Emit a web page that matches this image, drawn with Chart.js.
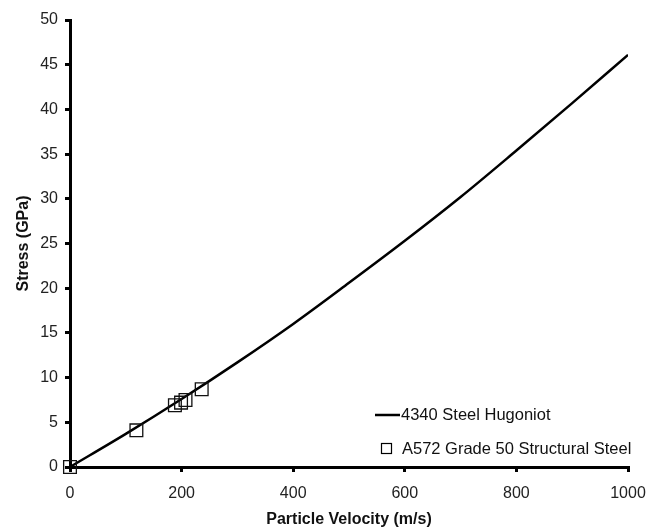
<!DOCTYPE html>
<html lang="en">
<head>
    <meta charset="UTF-8">
    <title>Stress vs Particle Velocity</title>
    <script src="https://cdn.jsdelivr.net/npm/chart.js"></script>
    <style>
        body, html {
            margin: 0;
            padding: 0;
            background-color: #ffffff;
        }
        .chart-container {
            position: relative;
            width: 659px;
            height: 529px;
        }
    </style>
</head>
<body>
    <div class="chart-container">
        <canvas id="hugoniotChart"></canvas>
    </div>
    <script>
        // 4340 steel Hugoniot curve
        const curveVelocity = [0, 100, 200, 300, 400, 500, 600, 700, 800, 900, 1000];
        const curveStress = [0, 3.7, 7.6, 11.7, 16.0, 20.6, 25.3, 30.2, 35.4, 40.7, 46.1];

        // A572 Grade 50 test points
        const testVelocity = [0, 119, 188, 199, 207, 236];
        const testStress = [0, 4.1, 6.9, 7.2, 7.5, 8.7];

        const xTicks = [0, 200, 400, 600, 800, 1000];
        const yTicks = [0, 5, 10, 15, 20, 25, 30, 35, 40, 45, 50];

        const seriesNames = ['4340 Steel Hugoniot', 'A572 Grade 50 Structural Steel'];

        const fontFamily = 'Arial, "Liberation Sans", sans-serif';

        // legend drawn inside the plot, lower right
        const insideLegend = {
            id: 'insideLegend',
            afterDraw(chart) {
                const ctx = chart.ctx;
                ctx.save();
                ctx.font = '16.5px ' + fontFamily;
                ctx.fillStyle = '#111';
                ctx.textBaseline = 'middle';
                // line entry
                ctx.strokeStyle = '#000';
                ctx.lineWidth = 2.5;
                ctx.beginPath();
                ctx.moveTo(375, 415);
                ctx.lineTo(400, 415);
                ctx.stroke();
                ctx.fillText(seriesNames[0], 401, 415);
                // square entry
                ctx.lineWidth = 1.2;
                ctx.strokeRect(381.5, 443.5, 10, 10);
                ctx.fillText(seriesNames[1], 402, 449);
                ctx.restore();
            }
        };

        const ctx = document.getElementById('hugoniotChart').getContext('2d');
        new Chart(ctx, {
            type: 'scatter',
            data: {
                datasets: [
                    {
                        label: seriesNames[0],
                        data: curveVelocity.map((v, i) => ({ x: v, y: curveStress[i] })),
                        showLine: true,
                        borderColor: '#000',
                        borderWidth: 2.5,
                        pointRadius: 0,
                        cubicInterpolationMode: 'monotone',
                        order: 2
                    },
                    {
                        label: seriesNames[1],
                        data: testVelocity.map((v, i) => ({ x: v, y: testStress[i] })),
                        showLine: false,
                        pointStyle: 'rect',
                        pointRadius: 9,
                        borderColor: '#111',
                        borderWidth: 1.3,
                        backgroundColor: 'rgba(255,255,255,0)',
                        clip: false,
                        order: 1
                    }
                ]
            },
            options: {
                responsive: true,
                maintainAspectRatio: false,
                animation: false,
                layout: {
                    padding: { left: 0, top: 20, right: 31, bottom: 0 }
                },
                scales: {
                    x: {
                        type: 'linear',
                        min: 0,
                        max: 1000,
                        afterBuildTicks: axis => { axis.ticks = xTicks.map(v => ({ value: v })); },
                        afterFit: axis => { axis.height = 62; },
                        ticks: {
                            color: '#222',
                            font: { family: fontFamily, size: 16 },
                            padding: 12,
                            maxRotation: 0,
                            callback: v => String(v)
                        },
                        grid: {
                            drawOnChartArea: false,
                            color: '#000',
                            lineWidth: 3,
                            tickLength: 5
                        },
                        border: { color: '#000', width: 3 },
                        title: {
                            display: true,
                            text: 'Particle Velocity (m/s)',
                            color: '#111',
                            font: { family: fontFamily, size: 16, weight: 'bold' },
                            padding: { top: 0, bottom: 0 }
                        }
                    },
                    y: {
                        type: 'linear',
                        min: 0,
                        max: 50,
                        afterBuildTicks: axis => { axis.ticks = yTicks.map(v => ({ value: v })); },
                        afterFit: axis => { axis.width = 70; },
                        ticks: {
                            color: '#222',
                            font: { family: fontFamily, size: 16 },
                            padding: 7
                        },
                        grid: {
                            drawOnChartArea: false,
                            color: '#000',
                            lineWidth: 3,
                            tickLength: 5
                        },
                        border: { color: '#000', width: 3 },
                        title: {
                            display: true,
                            text: 'Stress (GPa)',
                            color: '#111',
                            font: { family: fontFamily, size: 16, weight: 'bold' },
                            padding: { top: 14, bottom: 0 }
                        }
                    }
                },
                plugins: {
                    legend: { display: false },
                    tooltip: { enabled: false }
                }
            },
            plugins: [insideLegend]
        });
    </script>
</body>
</html>
